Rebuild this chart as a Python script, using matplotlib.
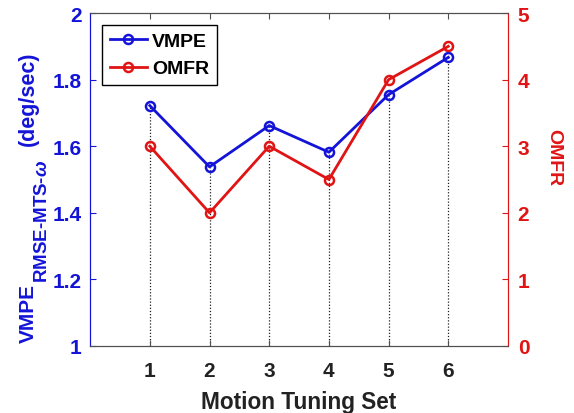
import matplotlib
matplotlib.use("Agg")
import matplotlib.pyplot as plt

plt.rcParams['font.family'] = ['Liberation Sans', 'DejaVu Sans']
plt.rcParams['font.weight'] = 'bold'
plt.rcParams['mathtext.fontset'] = 'custom'
plt.rcParams['mathtext.rm'] = 'Liberation Sans:bold'
plt.rcParams['mathtext.it'] = 'Liberation Sans:bold:italic'
plt.rcParams['mathtext.bf'] = 'Liberation Sans:bold'

tuning_sets = [1, 2, 3, 4, 5, 6]
vmpe = [1.722, 1.538, 1.662, 1.582, 1.755, 1.867]
omfr = [3, 2, 3, 2.5, 4, 4.5]
left_ticks = [1, 1.2, 1.4, 1.6, 1.8, 2]
left_tick_labels = ['1', '1.2', '1.4', '1.6', '1.8', '2']
right_ticks = [0, 1, 2, 3, 4, 5]

blue = '#1414d8'
red = '#e01414'
gray = '#505050'
dark = '#222222'

W, H = 574, 414
fig = plt.figure(figsize=(W / 100, H / 100), dpi=100)
ax = fig.add_axes([0.157, 0.162, 0.728, 0.804])
ax2 = ax.twinx()

# dotted guides from each VMPE point down to the x axis
ax.vlines(tuning_sets, 1, vmpe, colors=dark, linestyles=(0, (1, 1.5)), linewidth=0.9, zorder=1)

l1, = ax.plot(tuning_sets, vmpe, '-o', color=blue, linewidth=2, markersize=6.5,
              markerfacecolor='none', markeredgewidth=1.8, label='VMPE', zorder=3)
l2, = ax2.plot(tuning_sets, omfr, '-o', color=red, linewidth=2, markersize=6.5,
               markerfacecolor='none', markeredgewidth=1.8, label='OMFR', zorder=3)

ax.set_xlim(0, 7)
ax.set_ylim(1, 2)
ax2.set_ylim(0, 5)
ax.set_xticks(tuning_sets)
ax.set_yticks(left_ticks)
ax.set_yticklabels(left_tick_labels)
ax2.set_yticks(right_ticks)

ax.tick_params(axis='x', direction='in', top=True, colors=gray, labelcolor=dark,
               labelsize=15, length=4, pad=11)
ax.tick_params(axis='y', direction='in', colors=blue, labelcolor=blue, labelsize=15,
               length=4, pad=6)
ax2.tick_params(axis='y', direction='in', colors=red, labelcolor=red, labelsize=15,
                length=4, pad=7)

for a in (ax, ax2):
    a.spines['top'].set_color(gray)
    a.spines['bottom'].set_color(gray)
    a.spines['left'].set_color(blue)
    a.spines['right'].set_color(red)

ax.set_xlabel('Motion Tuning Set', fontsize=16.3, fontweight='bold', color=dark, labelpad=7)


def vtext(s, x_px, y_px, size):
    return fig.text(x_px / W, y_px / H, s, rotation=90, rotation_mode='anchor',
                    ha='left', va='baseline', fontsize=size, fontweight='bold', color=blue)


# left axis label built from pieces so the subscript keeps its own size
renderer = fig.canvas.get_renderer()
t_main = vtext('VMPE', 34, 71, 15)
y_next = t_main.get_window_extent(renderer).y1 + 1
t_sub = vtext(r'RMSE-MTS-$\omega$', 47, y_next, 13.5)
y_next = t_sub.get_window_extent(renderer).y1 + 14
vtext('(deg/sec)', 34, y_next, 15.5)

fig.text(553.5 / W, (H - 158) / H, 'OMFR', rotation=270, ha='center', va='center',
         fontsize=14, fontweight='bold', color=red)

leg = ax2.legend(handles=[l1, l2], loc='upper left', fontsize=14, frameon=True,
                 fancybox=False, edgecolor='black', framealpha=1,
                 handlelength=1.9, handletextpad=0.3, borderaxespad=0.6)
leg.get_frame().set_linewidth(1.0)

fig.savefig('out.png', dpi=100)
